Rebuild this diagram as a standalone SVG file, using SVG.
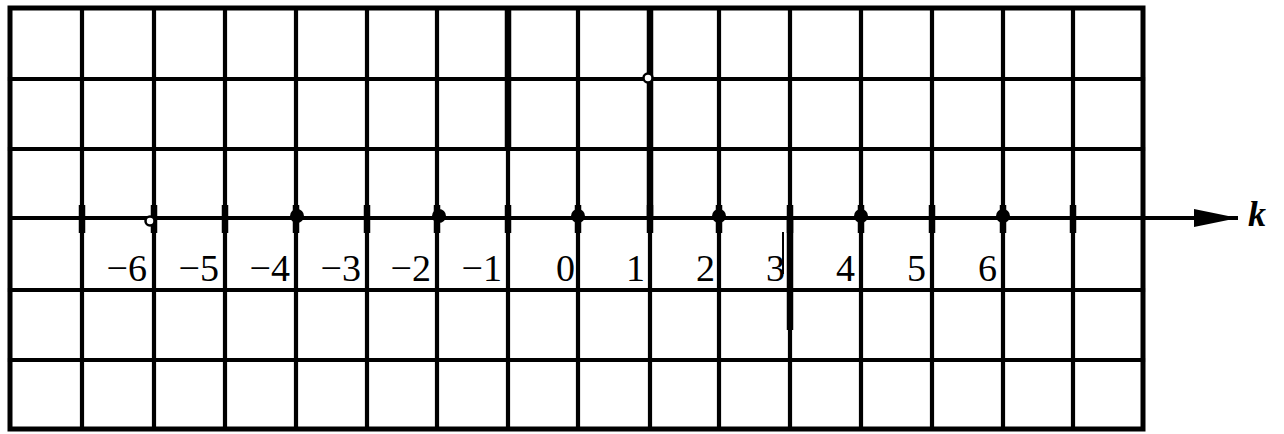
<svg xmlns="http://www.w3.org/2000/svg" width="1284" height="434" viewBox="0 0 1284 434">
  <style>
    .grid line { stroke: #000; stroke-width: 4.2; stroke-linecap: square; }
    .border { fill: none; stroke: #000; stroke-width: 5; }
    .tick { stroke: #000; stroke-width: 6.5; }
    .heavy { stroke: #000; stroke-width: 6.5; }
    .lbl { font-family: "Liberation Serif", "Times New Roman", serif; font-size: 38px; fill: #000; text-anchor: end; }
    .dot { fill: #000; }
    .open { fill: #fff; stroke: #000; stroke-width: 2.5; }
    .axisname { font-family: "Liberation Serif", "Times New Roman", serif; font-size: 36px; font-style: italic; font-weight: bold; fill: #000; }
  </style>
  <defs>
    <marker id="arrow" markerUnits="userSpaceOnUse" markerWidth="46" markerHeight="20" refX="44" refY="10" orient="auto">
      <path d="M0,1 L44,10 L0,19 Z" fill="#000"/>
    </marker>
  </defs>
  <rect width="1284" height="434" fill="#fff"/>

  <g id="grid" class="grid">
    <line x1="82" y1="8" x2="82" y2="429"/>
    <line x1="154" y1="8" x2="154" y2="429"/>
    <line x1="225" y1="8" x2="225" y2="429"/>
    <line x1="296" y1="8" x2="296" y2="429"/>
    <line x1="367" y1="8" x2="367" y2="429"/>
    <line x1="437" y1="8" x2="437" y2="429"/>
    <line x1="508" y1="8" x2="508" y2="429"/>
    <line x1="578" y1="8" x2="578" y2="429"/>
    <line x1="650" y1="8" x2="650" y2="429"/>
    <line x1="719" y1="8" x2="719" y2="429"/>
    <line x1="790" y1="8" x2="790" y2="429"/>
    <line x1="861" y1="8" x2="861" y2="429"/>
    <line x1="932" y1="8" x2="932" y2="429"/>
    <line x1="1003" y1="8" x2="1003" y2="429"/>
    <line x1="1073" y1="8" x2="1073" y2="429"/>
    <line x1="10" y1="79" x2="1143" y2="79"/>
    <line x1="10" y1="149" x2="1143" y2="149"/>
    <line x1="10" y1="290" x2="1143" y2="290"/>
    <line x1="10" y1="360" x2="1143" y2="360"/>
    <rect class="border" x="10" y="8" width="1133" height="421"/>
  </g>

  <g id="marks">
    <line class="heavy" x1="508" y1="10" x2="508" y2="150"/>
    <line class="heavy" x1="650" y1="10" x2="650" y2="219"/>
    <line class="heavy" x1="790" y1="219" x2="790" y2="330"/>
    <line x1="783" y1="232" x2="783" y2="274" stroke="#000" stroke-width="2"/>
    <circle class="open" cx="648" cy="78" r="4.5"/>
  </g>

  <g id="connectors">
    <line id="axis" x1="10" y1="218" x2="1238" y2="218" stroke="#000" stroke-width="4.2" marker-end="url(#arrow)"/>
  </g>

  <g id="ticks">
    <line class="tick" x1="82" y1="205" x2="82" y2="233"/>
    <line class="tick" x1="154" y1="205" x2="154" y2="233"/>
    <line class="tick" x1="225" y1="205" x2="225" y2="233"/>
    <line class="tick" x1="296" y1="205" x2="296" y2="233"/>
    <line class="tick" x1="367" y1="205" x2="367" y2="233"/>
    <line class="tick" x1="437" y1="205" x2="437" y2="233"/>
    <line class="tick" x1="508" y1="205" x2="508" y2="233"/>
    <line class="tick" x1="578" y1="205" x2="578" y2="233"/>
    <line class="tick" x1="650" y1="205" x2="650" y2="233"/>
    <line class="tick" x1="719" y1="205" x2="719" y2="233"/>
    <line class="tick" x1="790" y1="205" x2="790" y2="233"/>
    <line class="tick" x1="861" y1="205" x2="861" y2="233"/>
    <line class="tick" x1="932" y1="205" x2="932" y2="233"/>
    <line class="tick" x1="1003" y1="205" x2="1003" y2="233"/>
    <line class="tick" x1="1073" y1="205" x2="1073" y2="233"/>
  </g>

  <g id="points">
    <circle class="open" cx="150" cy="221" r="4.5"/>
    <circle class="dot" cx="297" cy="216" r="7"/>
    <circle class="dot" cx="439" cy="216" r="7"/>
    <circle class="dot" cx="578" cy="216" r="7"/>
    <circle class="dot" cx="719" cy="216" r="7"/>
    <circle class="dot" cx="861" cy="216" r="7"/>
    <circle class="dot" cx="1003" cy="216" r="7"/>
  </g>

  <g id="labels">
    <text class="lbl" x="147" y="281">−6</text>
    <text class="lbl" x="219" y="281">−5</text>
    <text class="lbl" x="290" y="281">−4</text>
    <text class="lbl" x="361" y="281">−3</text>
    <text class="lbl" x="431" y="281">−2</text>
    <text class="lbl" x="502" y="281">−1</text>
    <text class="lbl" x="575" y="281">0</text>
    <text class="lbl" x="645" y="281">1</text>
    <text class="lbl" x="715" y="281">2</text>
    <text class="lbl" x="785" y="281">3</text>
    <text class="lbl" x="855" y="281">4</text>
    <text class="lbl" x="926" y="281">5</text>
    <text class="lbl" x="997" y="281">6</text>
  </g>

  <g id="axis-label">
    <text class="axisname" x="1248" y="226">k</text>
  </g>
</svg>
